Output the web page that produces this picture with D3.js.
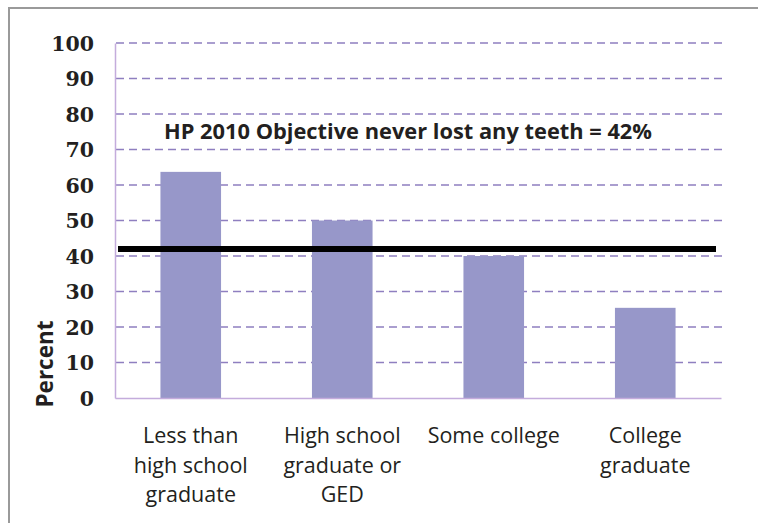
<!DOCTYPE html>
<html>
<head>
<meta charset="utf-8">
<script src="https://cdn.jsdelivr.net/npm/d3@7"></script>
<style>
  html, body { margin: 0; padding: 0; background: #fff; }
  svg { display: block; }
</style>
</head>
<body>
<svg id="chart" width="758" height="523"></svg>
<script>
// Education level categories (multi-line labels)
const categories = [
  "Less than|high school|graduate",
  "High school|graduate or|GED",
  "Some college",
  "College|graduate"
];
// Percent who never lost any teeth
const values = [63.7, 50, 40, 25.4];
// Y axis ticks
const yTicks = [0, 10, 20, 30, 40, 50, 60, 70, 80, 90, 100];
// Healthy People 2010 objective
const objectiveValue = 42;
const objectiveLabel = "HP 2010 Objective never lost any teeth = 42%";

const svg = d3.select("#chart");

// outer frame
svg.append("path")
  .attr("d", "M9,530 L9,8 L770,8")
  .attr("fill", "none")
  .attr("stroke", "#9a9a9a")
  .attr("stroke-width", 2);

const x = d3.scaleBand()
  .domain(categories)
  .range([115, 721])
  .paddingInner(0.6)
  .paddingOuter(0.3);

const y = d3.scaleLinear()
  .domain([0, 100])
  .range([398, 43]);

// dashed gridlines
svg.append("g")
  .selectAll("line")
  .data(yTicks.filter(d => d > 0))
  .join("line")
  .attr("x1", 116)
  .attr("x2", 722)
  .attr("y1", d => y(d))
  .attr("y2", d => y(d))
  .attr("stroke", "#8f7fc0")
  .attr("stroke-width", 1.3)
  .attr("stroke-dasharray", "8,5");

// y axis
const yAxis = d3.axisLeft(y).tickValues(yTicks).tickSize(0).tickPadding(21);
const gy = svg.append("g").attr("transform", "translate(115,0)").call(yAxis);
gy.select(".domain").attr("stroke", "#c4acdc").attr("stroke-width", 1.5);
gy.selectAll("text")
  .attr("font-family", "'DejaVu Serif', serif")
  .attr("font-weight", "bold")
  .attr("font-size", 20.5)
  .attr("fill", "#231f20")
  .attr("dy", "0.36em");

// bars
svg.append("g")
  .selectAll("rect")
  .data(values)
  .join("rect")
  .attr("x", (d, i) => x(categories[i]))
  .attr("width", x.bandwidth())
  .attr("y", d => y(d))
  .attr("height", d => y(0) - y(d))
  .attr("fill", "#9797c9");

// x axis
const xAxis = d3.axisBottom(x).tickSize(0).tickFormat("");
const gx = svg.append("g").attr("transform", "translate(0,398)").call(xAxis);
gx.select(".domain").attr("stroke", "#c4acdc").attr("stroke-width", 1.5);

// category labels
const labels = svg.append("g")
  .attr("font-family", "'Open Sans', sans-serif")
  .attr("font-size", 21.5)
  .attr("fill", "#231f20")
  .attr("text-anchor", "middle");
categories.forEach(c => {
  const t = labels.append("text")
    .attr("x", x(c) + x.bandwidth() / 2)
    .attr("y", 443);
  c.split("|").forEach((line, i) => {
    t.append("tspan")
      .attr("x", x(c) + x.bandwidth() / 2)
      .attr("dy", i === 0 ? 0 : 29.5)
      .text(line);
  });
});

// objective reference line
svg.append("line")
  .attr("x1", 118)
  .attr("x2", 716)
  .attr("y1", y(objectiveValue))
  .attr("y2", y(objectiveValue))
  .attr("stroke", "#000")
  .attr("stroke-width", 6);

svg.append("text")
  .attr("x", 164)
  .attr("y", 139)
  .attr("font-family", "'Open Sans', sans-serif")
  .attr("font-weight", "bold")
  .attr("font-size", 21)
  .attr("fill", "#231f20")
  .attr("textLength", 488)
  .attr("lengthAdjust", "spacingAndGlyphs")
  .text(objectiveLabel);

// y axis title
svg.append("text")
  .attr("transform", "translate(53,364) rotate(-90)")
  .attr("text-anchor", "middle")
  .attr("font-family", "'Open Sans', sans-serif")
  .attr("font-weight", "bold")
  .attr("font-size", 22.5)
  .attr("fill", "#231f20")
  .text("Percent");
</script>
</body>
</html>
